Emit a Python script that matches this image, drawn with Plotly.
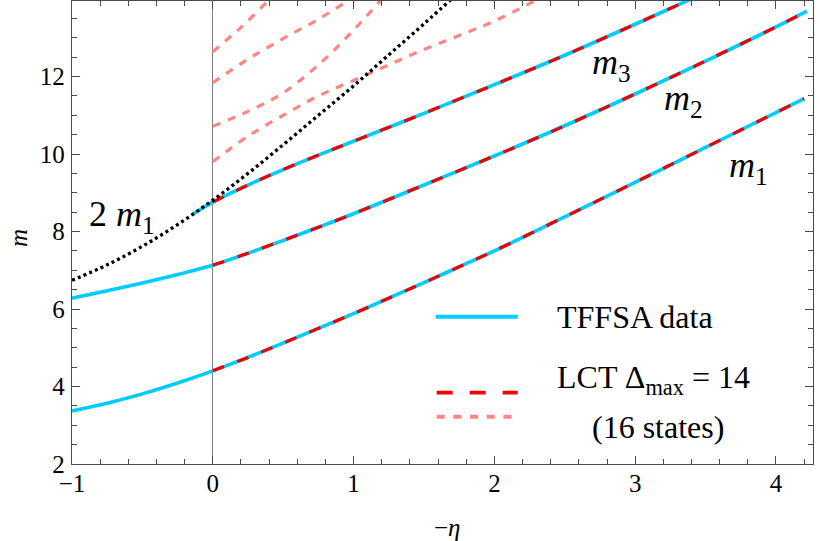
import plotly.graph_objects as go

# ---- data ----
# TFFSA data (cyan)
x_m1 = [-1, -0.75, -0.5, -0.25, 0, 0.25, 0.5, 0.75, 1, 1.25, 1.5, 1.75, 2, 2.5, 3, 3.5, 4, 4.2]
m1 = [3.37, 3.57, 3.81, 4.09, 4.405, 4.75, 5.12, 5.5, 5.88, 6.28, 6.68, 7.09, 7.5, 8.38, 9.27, 10.17, 11.07, 11.43]

x_m2 = [-1, -0.75, -0.5, -0.25, 0, 0.25, 0.5, 0.75, 1, 1.5, 2, 2.5, 3, 3.5, 4, 4.22]
m2 = [6.28, 6.47, 6.67, 6.89, 7.13, 7.44, 7.77, 8.11, 8.46, 9.2, 9.95, 10.73, 11.55, 12.4, 13.28, 13.69]

x_m3 = [-0.14, 0, 0.25, 0.5, 0.75, 1, 1.5, 2, 2.5, 3, 3.5]
m3 = [8.45, 8.76, 9.2, 9.6, 9.97, 10.33, 11.05, 11.79, 12.55, 13.35, 14.17]

# 2 m1 threshold (black dotted)
x_2m1 = [-1, -0.75, -0.5, -0.25, 0, 0.25, 0.5, 0.75, 1, 1.25, 1.5, 1.75]
two_m1 = [6.74, 7.14, 7.62, 8.18, 8.81, 9.5, 10.24, 11.0, 11.76, 12.56, 13.36, 14.18]

# LCT higher states (light red dashed), from -eta = 0
x_s4 = [0, 0.25, 0.5, 0.75, 1, 1.25, 1.5, 1.75, 2, 2.3]
s4 = [9.80, 10.46, 11.0, 11.5, 11.9, 12.3, 12.7, 13.06, 13.43, 13.98]
x_s5 = [0, 0.25, 0.5, 0.75, 1.0, 1.25]
s5 = [10.72, 11.1, 11.58, 12.3, 13.2, 14.2]
x_s6 = [0, 0.25, 0.5, 0.75, 1.0]
s6 = [11.84, 12.45, 12.98, 13.48, 14.05]
x_s7 = [0, 0.2, 0.4, 0.5]
s7 = [12.64, 13.27, 13.98, 14.35]

x_ticks = [-1, 0, 1, 2, 3, 4]
y_ticks = [2, 4, 6, 8, 10, 12]

CYAN = "#00ccff"
RED = "#f00000"
LRED = "#ff8585"
FONT = "Liberation Serif"
AX = "#4a4a4a"

fig = go.Figure()

# cyan TFFSA curves
for xs, ys in [(x_m1, m1), (x_m2, m2), (x_m3, m3)]:
    fig.add_trace(go.Scatter(x=xs, y=ys, mode="lines", line=dict(color=CYAN, width=3.6, shape="spline"),
                             showlegend=False, hoverinfo="skip"))

# red LCT curves on top (from -eta = 0)
for xs, ys in [(x_m1, m1), (x_m2, m2), (x_m3, m3)]:
    i0 = xs.index(0)
    fig.add_trace(go.Scatter(x=xs[i0:], y=ys[i0:], mode="lines",
                             line=dict(color=RED, width=3.2, dash="12px,14px", shape="spline"),
                             showlegend=False, hoverinfo="skip"))

# light red higher states
for xs, ys in [(x_s4, s4), (x_s5, s5), (x_s6, s6), (x_s7, s7)]:
    fig.add_trace(go.Scatter(x=xs, y=ys, mode="lines",
                             line=dict(color=LRED, width=3.2, dash="8px,8px", shape="spline"),
                             showlegend=False, hoverinfo="skip"))

# 2 m1 dotted
fig.add_trace(go.Scatter(x=x_2m1, y=two_m1, mode="lines",
                         line=dict(color="black", width=3.3, dash="3px,3.2px", shape="spline"),
                         showlegend=False, hoverinfo="skip"))

ann = []
def label(x, y, text, size, anchor="left"):
    ann.append(dict(x=x, y=y, xref="x", yref="y", text=text, showarrow=False,
                    xanchor=anchor, yanchor="middle", font=dict(family=FONT, size=size, color="black")))

label(-0.897, 8.40, "2 <i>m</i><sub>1</sub>", 36)
label(2.680, 12.30, "<i>m</i><sub>3</sub>", 36)
label(3.19, 11.38, "<i>m</i><sub>2</sub>", 36)
label(3.652, 9.64, "<i>m</i><sub>1</sub>", 36)
label(2.429, 5.79, "TFFSA data", 32)
label(2.429, 4.19, "LCT Δ<sub>max</sub> = 14", 32)
label(2.678, 2.955, "(16 states)", 32)

# axis titles
ann.append(dict(x=(447 - 72) / 741, y=(464 - 527) / 463, xref="paper", yref="paper",
                text="−<i>η</i>", showarrow=False, xanchor="center", yanchor="middle",
                font=dict(family=FONT, size=25, color="black")))
ann.append(dict(x=(18 - 72) / 741, y=(464 - 238) / 463, xref="paper", yref="paper",
                text="<i>m</i>", showarrow=False, xanchor="center", yanchor="middle", textangle=-90,
                font=dict(family=FONT, size=25, color="black")))

shapes = [
    dict(type="line", xref="x", yref="y", x0=1.583, x1=2.166, y0=5.80, y1=5.80,
         line=dict(color=CYAN, width=3.8)),
    dict(type="line", xref="x", yref="y", x0=1.59, x1=2.166, y0=3.84, y1=3.84,
         line=dict(color=RED, width=3.8, dash="16px,17px")),
    dict(type="line", xref="x", yref="y", x0=1.59, x1=2.124, y0=3.22, y1=3.22,
         line=dict(color=LRED, width=3.8, dash="8px,8.7px")),
]

axis_common = dict(showline=True, linecolor=AX, linewidth=1.3, mirror="ticks", ticks="inside",
                   tickcolor=AX, tickwidth=1.2, ticklen=8, showgrid=False, automargin=False,
                   tickfont=dict(family=FONT, size=25, color="black"))

fig.update_layout(
    width=820, height=541,
    margin=dict(l=72, r=7, t=1, b=77),
    paper_bgcolor="white", plot_bgcolor="white",
    xaxis=dict(range=[-1, 4.263], tickvals=x_ticks, zeroline=True, zerolinecolor="#808080",
               zerolinewidth=1.3, ticklabelstandoff=-3,
               minor=dict(ticks="inside", dtick=0.2, tick0=0, ticklen=4.5, tickcolor=AX, tickwidth=1),
               **axis_common),
    yaxis=dict(range=[2, 13.95], tickvals=y_ticks, zeroline=False, ticklabelstandoff=1,
               minor=dict(ticks="inside", dtick=0.5, tick0=0, ticklen=4.5, tickcolor=AX, tickwidth=1),
               **axis_common),
    annotations=ann,
    shapes=shapes,
    showlegend=False,
)

fig.write_html("out.html", config={"displayModeBar": False},
               post_script="document.body.style.margin='0';")
